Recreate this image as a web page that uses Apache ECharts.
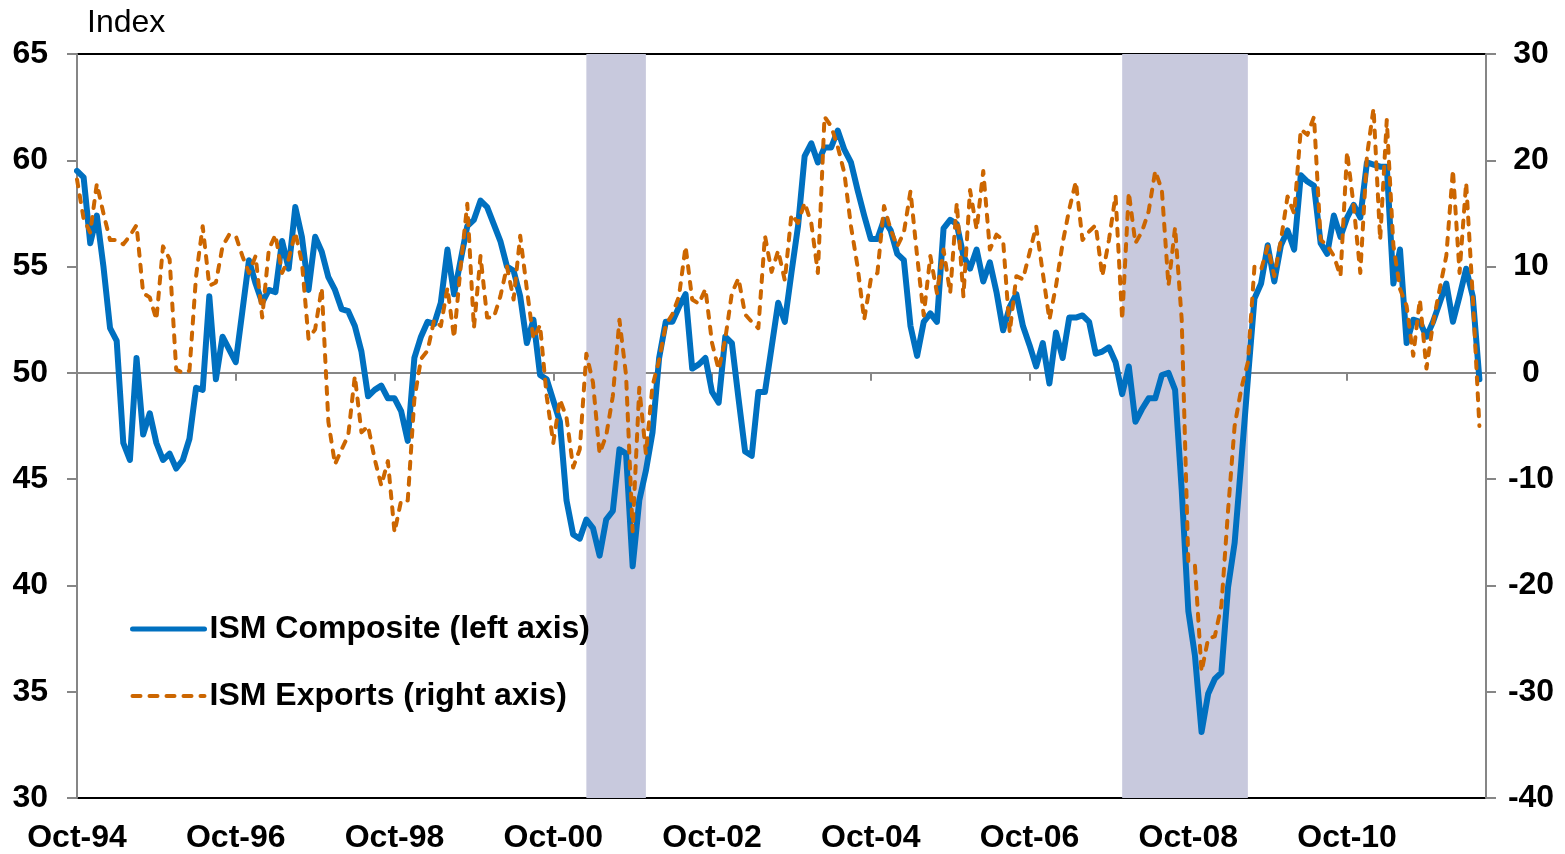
<!DOCTYPE html>
<html>
<head>
<meta charset="utf-8">
<script src="https://cdn.jsdelivr.net/npm/echarts@6/dist/echarts.min.js"></script>
<style>
html,body{margin:0;padding:0;background:#fff;}
#chart{width:1565px;height:854px;}
</style>
</head>
<body>
<div id="chart"></div>
<script>
// Monthly categories Oct-94 .. Jul-12
var monthNames = ['Jan','Feb','Mar','Apr','May','Jun','Jul','Aug','Sep','Oct','Nov','Dec'];
var categories = [];
(function(){
  var y = 1994, m = 9;
  for (var k = 0; k < 214; k++) {
    categories.push(monthNames[m] + '-' + String(y % 100).padStart(2, '0'));
    m++; if (m > 11) { m = 0; y++; }
  }
})();

// ISM Composite (left axis), Oct-94 .. Jun-12
var ismComposite = [
  59.5, 59.2, 56.1, 57.4, 55.0, 52.1, 51.5, 46.7, 45.9, 50.7, 47.1, 48.1,
  46.7, 45.9, 46.2, 45.5, 45.9, 46.9, 49.3, 49.2, 53.6, 49.7, 51.7, 51.1,
  50.5, 52.9, 55.3, 54.2, 53.3, 53.9, 53.8, 56.2, 54.9, 57.8, 56.4, 53.9,
  56.4, 55.7, 54.5, 53.9, 53.0, 52.9, 52.2, 51.0, 48.9, 49.2, 49.4, 48.8,
  48.8, 48.2, 46.8, 50.7, 51.7, 52.4, 52.3, 53.3, 55.8, 53.7, 55.3, 56.9,
  57.2, 58.1, 57.8, 57.0, 56.2, 55.0, 54.8, 53.6, 51.4, 52.5, 49.9, 49.7,
  48.7, 47.7, 44.0, 42.4, 42.2, 43.1, 42.7, 41.4, 43.1, 43.5, 46.4, 46.2,
  40.9, 44.0, 45.4, 47.2, 50.7, 52.4, 52.4, 53.1, 53.7, 50.2, 50.4, 50.7,
  49.1, 48.6, 51.7, 51.4, 48.8, 46.3, 46.1, 49.1, 49.1, 51.2, 53.3, 52.4,
  54.7, 56.9, 60.2, 60.8, 59.9, 60.6, 60.6, 61.4, 60.5, 59.9, 58.6, 57.4,
  56.3, 56.3, 57.2, 56.7, 55.6, 55.3, 52.2, 50.8, 52.4, 52.8, 52.4, 56.8,
  57.2, 57.0, 55.5, 54.9, 55.8, 54.3, 55.2, 53.8, 52.0, 53.1, 53.7, 52.2,
  51.3, 50.3, 51.4, 49.5, 51.9, 50.7, 52.6, 52.6, 52.7, 52.4, 50.9, 51.0,
  51.2, 50.5, 49.0, 50.3, 47.7, 48.3, 48.8, 48.8, 49.9, 50.0, 49.2, 44.5,
  38.8, 36.7, 33.1, 34.9, 35.6, 35.9, 39.9, 42.0, 45.8, 49.7, 53.5, 54.2,
  56.0, 54.3, 56.0, 56.7, 55.8, 59.3, 59.0, 58.8, 56.1, 55.6, 57.4, 56.4,
  57.3, 57.9, 57.3, 59.9, 59.8, 59.7, 59.7, 54.2, 55.8, 51.4, 52.5, 52.4,
  51.7, 52.4, 53.3, 54.2, 52.4, 53.6, 54.9, 53.6, 49.7
];

// ISM Exports (right axis), Oct-94 .. Jun-12
var ismExports = [
  18.2, 14.5, 13.2, 17.8, 15.0, 12.5, 12.5, 12.1, 12.9, 13.9, 7.5, 7.1,
  5.0, 11.9, 10.7, 0.3, 0.0, 0.2, 9.1, 13.8, 8.2, 8.5, 11.9, 13.0,
  12.9, 11.0, 9.4, 11.0, 5.2, 11.6, 13.0, 9.4, 10.7, 13.2, 10.4, 3.2,
  4.1, 8.0, -4.6, -8.6, -7.2, -5.9, -0.3, -5.6, -5.0, -8.1, -10.6, -8.3,
  -15.0, -12.0, -12.0, -2.5, 1.3, 2.1, 5.0, 4.4, 8.0, 3.3, 10.0, 15.9,
  4.2, 11.0, 5.2, 5.2, 7.2, 10.0, 6.9, 12.9, 7.9, 3.2, 4.5, -2.2,
  -6.6, -2.5, -4.2, -8.9, -7.2, 1.8, -0.9, -7.6, -5.9, -2.2, 5.0, -0.2,
  -14.9, -1.4, -7.6, -1.2, 1.2, 4.5, 5.5, 7.2, 11.9, 6.9, 6.5, 7.9,
  2.8, 0.3, 3.2, 7.5, 8.9, 5.5, 4.8, 4.2, 12.9, 9.5, 11.5, 8.7,
  14.9, 14.1, 16.0, 14.1, 9.4, 24.1, 23.2, 21.3, 18.8, 13.8, 10.0, 5.0,
  8.8, 9.4, 15.7, 13.5, 11.9, 13.2, 17.1, 11.0, 5.4, 11.0, 7.5, 11.6,
  7.5, 16.0, 7.2, 17.2, 13.5, 19.0, 11.6, 13.0, 12.5, 3.8, 9.1, 8.8,
  11.3, 13.8, 9.4, 5.0, 8.2, 12.2, 15.4, 18.0, 12.5, 13.3, 13.9, 9.1,
  12.5, 16.7, 5.0, 17.0, 12.2, 13.3, 15.2, 19.0, 17.2, 8.2, 13.7, 5.0,
  -17.8, -18.1, -28.1, -25.0, -24.8, -21.9, -13.0, -5.0, -1.5, 1.0, 10.0, 9.7,
  11.9, 9.1, 12.5, 16.6, 15.0, 22.9, 22.4, 24.1, 12.5, 12.0, 11.0, 9.1,
  20.8, 15.7, 9.4, 20.4, 24.9, 12.5, 23.8, 12.0, 7.9, 6.3, 1.6, 6.9,
  0.4, 4.7, 7.9, 11.0, 19.1, 9.4, 17.9, 7.2, -5.0
];

// Recession periods (start, end)
var recessions = [['Mar-01', 'Dec-01'], ['Dec-07', 'Jul-09']];

// Axis ticks
var leftTicks = { min: 30, max: 65, interval: 5 };
var rightTicks = { min: -40, max: 30, interval: 10 };

var BLUE = '#0070C0', ORANGE = '#CC6600';
var FONT = "'Liberation Sans', Arial, sans-serif";
var chart = echarts.init(document.getElementById('chart'));
chart.setOption({
  animation: false,
  backgroundColor: '#ffffff',
  title: {
    text: 'Index', left: 87, top: 7, padding: 0,
    textStyle: { fontFamily: FONT, fontSize: 32, fontWeight: 'normal', color: '#000' }
  },
  legend: {
    orient: 'vertical', left: 130, top: 613, padding: 0,
    itemWidth: 72, itemHeight: 14, itemGap: 35,
    itemStyle: { opacity: 0 },
    textStyle: { fontFamily: FONT, fontSize: 32, fontWeight: 'bold', color: '#000' },
    data: [
      { name: 'ISM Composite (left axis)', lineStyle: { width: 5, color: BLUE, cap: 'round' } },
      { name: 'ISM Exports (right axis)', lineStyle: { width: 4, color: ORANGE, type: [8, 9], cap: 'round' } }
    ]
  },
  grid: {
    left: 77, right: 79, top: 54, bottom: 54,
    show: true, borderColor: '#000', borderWidth: 2, backgroundColor: 'transparent'
  },
  xAxis: [
    {
      type: 'category', data: categories, boundaryGap: false, position: 'bottom',
      axisLine: { show: false, onZero: false },
      axisTick: { show: false },
      axisLabel: { interval: 23, fontFamily: FONT, fontSize: 32, fontWeight: 'bold', color: '#000', margin: 24 },
      splitLine: { show: false }
    },
    {
      type: 'category', data: categories, boundaryGap: false, position: 'bottom',
      axisLine: { show: true, onZero: true, onZeroAxisIndex: 1, lineStyle: { color: '#868686', width: 2 } },
      axisTick: { show: true, interval: 23, length: 8, lineStyle: { color: '#868686', width: 2 } },
      axisLabel: { show: false },
      splitLine: { show: false }
    }
  ],
  yAxis: [
    {
      type: 'value', position: 'left', min: leftTicks.min, max: leftTicks.max, interval: leftTicks.interval,
      axisLine: { show: true, lineStyle: { color: '#868686', width: 2 } },
      axisTick: { show: true, length: 10, lineStyle: { color: '#868686', width: 2 } },
      axisLabel: { fontFamily: FONT, fontSize: 32, fontWeight: 'bold', color: '#000', margin: 29 },
      splitLine: { show: false }
    },
    {
      type: 'value', position: 'right', min: rightTicks.min, max: rightTicks.max, interval: rightTicks.interval,
      axisLine: { show: true, onZero: false, lineStyle: { color: '#868686', width: 2 } },
      axisTick: { show: true, length: 10, lineStyle: { color: '#868686', width: 2 } },
      axisLabel: { fontFamily: FONT, fontSize: 32, fontWeight: 'bold', color: '#000', margin: 45, align: 'center' },
      splitLine: { show: false }
    }
  ],
  series: [
    {
      name: 'ISM Composite (left axis)', type: 'line', xAxisIndex: 0, yAxisIndex: 0,
      data: ismComposite, symbol: 'none', z: 2,
      lineStyle: { color: BLUE, width: 6, join: 'round', cap: 'round' },
      itemStyle: { color: BLUE },
      markArea: {
        silent: true,
        itemStyle: { color: '#C8C9DD', opacity: 1 },
        data: recessions.map(function (r) { return [{ xAxis: r[0] }, { xAxis: r[1] }]; })
      }
    },
    {
      name: 'ISM Exports (right axis)', type: 'line', xAxisIndex: 0, yAxisIndex: 1,
      data: ismExports, symbol: 'none', z: 3,
      lineStyle: { color: ORANGE, width: 4, type: [7, 9], cap: 'round', join: 'round' },
      itemStyle: { color: ORANGE }
    }
  ]
});
</script>
</body>
</html>
